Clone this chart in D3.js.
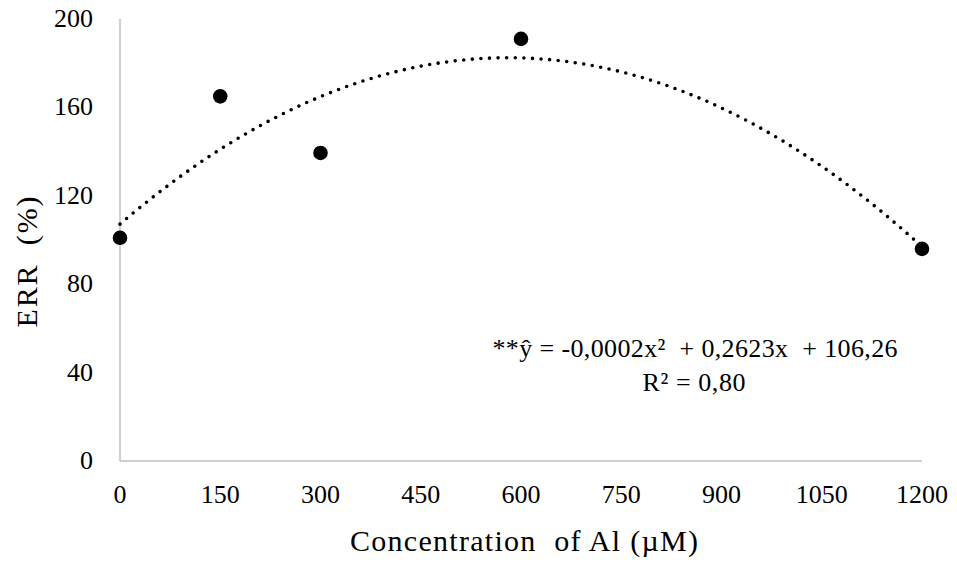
<!DOCTYPE html>
<html>
<head>
<meta charset="utf-8">
<script src="https://cdn.jsdelivr.net/npm/d3@7"></script>
<style>
  body { margin: 0; background: #fff; }
</style>
</head>
<body>
<svg width="957" height="565"></svg>
<script>
// data
const concentrations = [0, 150, 300, 600, 1200];
const errValues = [101, 165, 139.4, 191, 96];
const xTicks = [0, 150, 300, 450, 600, 750, 900, 1050, 1200];
const yTicks = [0, 40, 80, 120, 160, 200];
const equationText = "**\u0177 = -0,0002x\u00b2  + 0,2623x  + 106,26";
const r2Text = "R\u00b2 = 0,80";

const FONT = "Liberation Serif";

const svg = d3.select("svg");

const x = d3.scaleLinear().domain([0, 1200]).range([120, 922]);
const y = d3.scaleLinear().domain([0, 200]).range([461, 19]);

// axis lines
svg.append("line")
    .attr("x1", x(0)).attr("x2", x(0))
    .attr("y1", y(200)).attr("y2", y(0))
    .attr("stroke", "#bfbfbf").attr("stroke-width", 1.5);
svg.append("line")
    .attr("x1", x(0)).attr("x2", x(1200))
    .attr("y1", y(0)).attr("y2", y(0))
    .attr("stroke", "#bfbfbf").attr("stroke-width", 1.5);

// tick labels
svg.selectAll(".xtick")
    .data(xTicks)
    .enter()
    .append("text")
    .attr("class", "xtick")
    .attr("x", d => x(d))
    .attr("y", 503)
    .attr("text-anchor", "middle")
    .style("font-family", FONT)
    .style("font-size", "26px")
    .text(d => d);

svg.selectAll(".ytick")
    .data(yTicks)
    .enter()
    .append("text")
    .attr("class", "ytick")
    .attr("x", 93)
    .attr("y", d => y(d) + 8)
    .attr("text-anchor", "end")
    .style("font-family", FONT)
    .style("font-size", "26px")
    .text(d => d);

// quadratic least squares trendline
function fitQuadratic(xs, ys) {
    let s = [0, 0, 0, 0, 0], t = [0, 0, 0];
    xs.forEach((xv, i) => {
        for (let k = 0; k < 5; k++) s[k] += Math.pow(xv, k);
        for (let k = 0; k < 3; k++) t[k] += Math.pow(xv, k) * ys[i];
    });
    const m = [[s[0], s[1], s[2], t[0]], [s[1], s[2], s[3], t[1]], [s[2], s[3], s[4], t[2]]];
    for (let i = 0; i < 3; i++) {
        for (let j = i + 1; j < 3; j++) {
            const f = m[j][i] / m[i][i];
            for (let k = i; k < 4; k++) m[j][k] -= f * m[i][k];
        }
    }
    const c = [0, 0, 0];
    for (let i = 2; i >= 0; i--) {
        let v = m[i][3];
        for (let k = i + 1; k < 3; k++) v -= m[i][k] * c[k];
        c[i] = v / m[i][i];
    }
    return c; // c0 + c1 x + c2 x^2
}
const coef = fitQuadratic(concentrations, errValues);
const trend = d3.range(0, 1201, 10).map(v => [v, coef[0] + coef[1] * v + coef[2] * v * v]);

svg.append("path")
    .datum(trend)
    .attr("fill", "none")
    .attr("stroke", "#000")
    .attr("stroke-width", 3.6)
    .attr("stroke-linecap", "round")
    .attr("stroke-dasharray", "0 8.6")
    .attr("d", d3.line().x(d => x(d[0])).y(d => y(d[1])).curve(d3.curveMonotoneX));

// points
svg.selectAll("circle")
    .data(concentrations)
    .enter()
    .append("circle")
    .attr("cx", d => x(d))
    .attr("cy", (d, i) => y(errValues[i]))
    .attr("r", 7.3)
    .attr("fill", "#000");

// equation
svg.append("text")
    .attr("x", 695)
    .attr("y", 357)
    .attr("text-anchor", "middle")
    .attr("textLength", 405)
    .attr("lengthAdjust", "spacing")
    .style("font-family", FONT)
    .style("font-size", "26px")
    .style("white-space", "pre")
    .text(equationText);
svg.append("text")
    .attr("x", 694)
    .attr("y", 391)
    .attr("text-anchor", "middle")
    .attr("textLength", 103)
    .attr("lengthAdjust", "spacing")
    .style("font-family", FONT)
    .style("font-size", "26px")
    .text(r2Text);

// axis titles
svg.append("text")
    .attr("x", 524)
    .attr("y", 551)
    .attr("text-anchor", "middle")
    .attr("textLength", 348)
    .attr("lengthAdjust", "spacing")
    .style("font-family", FONT)
    .style("font-size", "30px")
    .style("white-space", "pre")
    .text("Concentration  of Al (\u00b5M)");

svg.append("text")
    .attr("transform", "translate(37, 262) rotate(-90)")
    .attr("text-anchor", "middle")
    .attr("textLength", 131)
    .attr("lengthAdjust", "spacing")
    .style("font-family", FONT)
    .style("font-size", "30px")
    .style("white-space", "pre")
    .text("ERR  (%)");
</script>
</body>
</html>
